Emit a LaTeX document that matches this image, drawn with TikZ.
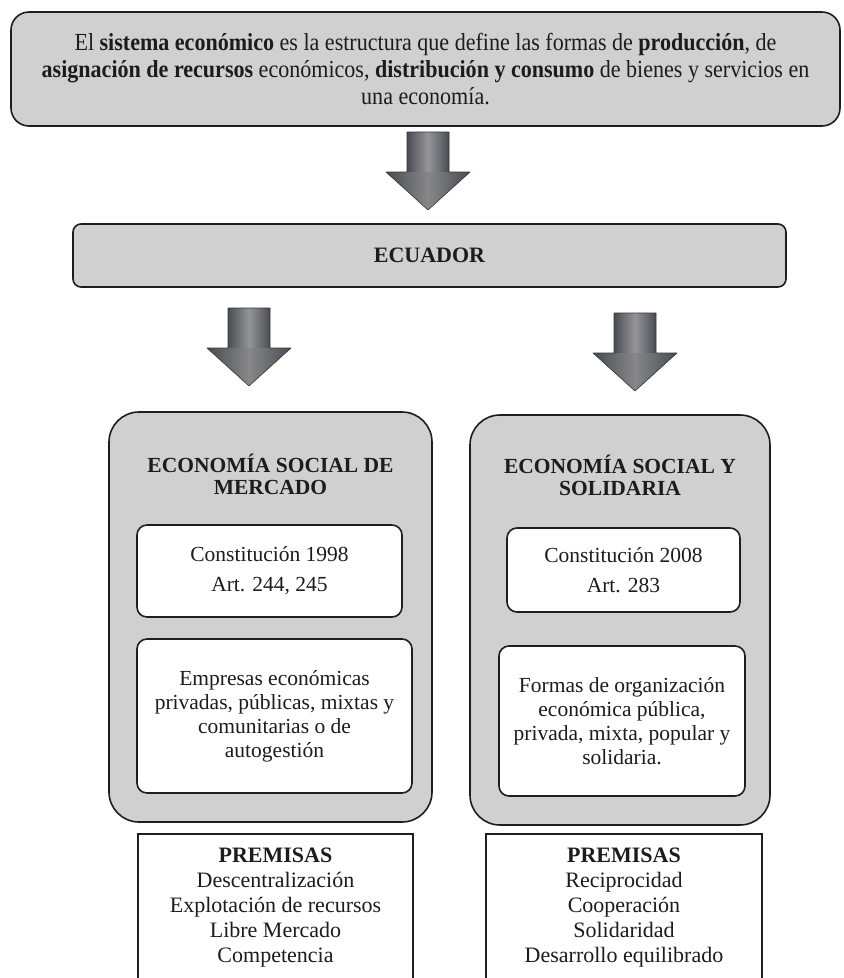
\documentclass[tikz,border=0pt]{standalone}
\usepackage{fontspec}
\setmainfont{Liberation Serif}
\newfontfamily\narrowserif[FakeStretch=0.9]{Liberation Serif}
\usepackage{xcolor}
\usepackage{tikz}
\usetikzlibrary{positioning, calc}

\definecolor{boxgray}{RGB}{208,208,208}
\definecolor{edgegray}{RGB}{30,30,30}
\definecolor{inkgray}{RGB}{28,28,28}
\definecolor{arrowdark}{RGB}{72,76,82}
\definecolor{arrowlight}{RGB}{150,150,152}

\begin{document}
\begin{tikzpicture}[
    outer sep=0pt,
    graybox/.style={draw=edgegray, line width=1.6pt, fill=boxgray, rounded corners=#1, align=center, inner sep=0pt, text=inkgray},
    graybox/.default=30pt,
    whitebox/.style={draw=edgegray, line width=1.6pt, fill=white, rounded corners=10pt, align=center, inner sep=0pt, text=inkgray, font=\fontsize{21.5pt}{24pt}\selectfont},
    premisebox/.style={draw=edgegray, line width=1.6pt, fill=white, align=center, inner sep=0pt, text=inkgray, minimum width=275pt, minimum height=147pt, font=\fontsize{22pt}{25pt}\selectfont},
    headtext/.style={align=center, inner sep=0pt, text=inkgray, font=\bfseries\fontsize{21.5pt}{22pt}\selectfont},
    blockarrow/.pic={
        \shade[left color=arrowdark, right color=arrowdark, middle color=arrowlight] (-21pt,0pt) rectangle (21pt,-41pt);
        \shade[left color=arrowdark, right color=arrowdark, middle color=arrowlight!90!black] (-42pt,-40pt) -- (42pt,-40pt) -- (0pt,-78pt) -- cycle;
        \draw[arrowdark!70!black, line width=0.6pt, line join=round] (-21pt,0pt) -- (21pt,0pt) -- (21pt,-40pt) -- (42pt,-40pt) -- (0pt,-78pt) -- (-42pt,-40pt) -- (-21pt,-40pt) -- cycle;
    }
]
\useasboundingbox (0pt,0pt) rectangle (844pt,-978pt);
\clip (0pt,0pt) rectangle (844pt,-978pt);

% Top: definition
\node[graybox=18pt, minimum width=829pt, minimum height=114pt, font=\narrowserif\fontsize{24.5pt}{27pt}\selectfont] (sistema) at (425.5pt,-69pt)
    {El \textbf{sistema económico} es la estructura que define las formas de \textbf{producción}, de\\
     \textbf{asignación de recursos} económicos, \textbf{distribución y consumo} de bienes y servicios en\\
     una economía.};
\node[graybox=8pt, minimum width=713pt, minimum height=63pt, below=98pt of sistema, xshift=4pt, font=\bfseries\fontsize{22pt}{24pt}\selectfont] (ecuador) {ECUADOR};

% Two columns
\node[graybox, minimum width=323pt, minimum height=410pt, below=125pt of ecuador, xshift=-159pt] (mercado) {};
\node[graybox, minimum width=300pt, minimum height=410pt, right=38pt of mercado, yshift=-3pt] (solidaria) {};

\node[headtext, below=42pt of mercado.north] (mercadoT) {ECONOMÍA SOCIAL DE\\ MERCADO};
\node[whitebox, minimum width=265pt, minimum height=92pt, below=113pt of mercado.north, xshift=-1pt, font=\fontsize{21.5pt}{30pt}\selectfont] (const98) {Constitución 1998\\ Art. 244, 245};
\node[whitebox, minimum width=275pt, minimum height=154pt, below=22pt of const98, xshift=5pt] (empresas)
    {Empresas económicas\\ privadas, públicas, mixtas y\\ comunitarias o de\\ autogestión};

\node[headtext, below=40.5pt of solidaria.north] (solidariaT) {ECONOMÍA SOCIAL Y\\ SOLIDARIA};
\node[whitebox, minimum width=233pt, minimum height=84pt, below=113pt of solidaria.north, xshift=3.5pt, font=\fontsize{21.5pt}{30pt}\selectfont] (const08) {Constitución 2008\\ Art. 283};
\node[whitebox, minimum width=246pt, minimum height=150pt, below=34pt of const08, xshift=-1.5pt] (formas)
    {Formas de organización\\ económica pública,\\ privada, mixta, popular y\\ solidaria.};

% Premisas (cut by the page edge)
\node[premisebox, below=12pt of mercado, xshift=5pt] (premL)
    {\textbf{PREMISAS}\\ Descentralización\\ Explotación de recursos\\ Libre Mercado\\ Competencia};
\node[premisebox, minimum width=276pt, below=9pt of solidaria, xshift=4pt] (premR)
    {\textbf{PREMISAS}\\ Reciprocidad\\ Cooperación\\ Solidaridad\\ Desarrollo equilibrado};

% Block arrows
\coordinate (arrA) at ($(sistema.south)+(2.5pt,-6pt)$);
\coordinate (arrB) at ($(ecuador.south)+(-180.5pt,-21pt)$);
\coordinate (arrC) at ($(ecuador.south)+(205.5pt,-26pt)$);
\pic at (arrA) {blockarrow};
\pic at (arrB) {blockarrow};
\pic at (arrC) {blockarrow};

\end{tikzpicture}
\end{document}
